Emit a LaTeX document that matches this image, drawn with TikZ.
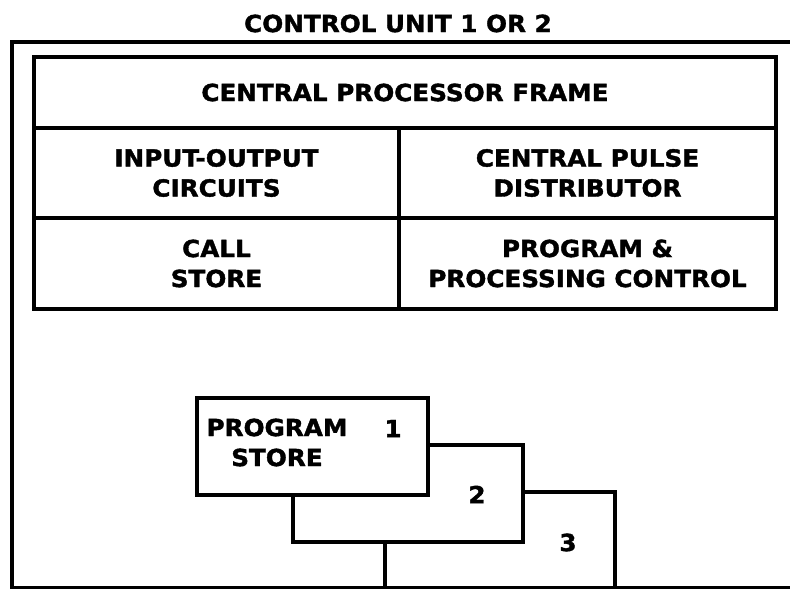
\documentclass[tikz,border=0pt]{standalone}
\usepackage{fontspec}
\setmainfont{DejaVu Sans}[FakeStretch=1.05,BoldFeatures={FakeBold=1.6}]
\begin{document}
\begin{tikzpicture}[x=1pt,y=-1pt,
  frame/.style={draw=black,line width=3.6pt},
  cell/.style={frame,rectangle,inner sep=0pt,align=center,font=\lbl},
  pstore/.style={frame,fill=white},
  lbltext/.style={inner sep=0pt,align=center,font=\lbl}]
\newcommand{\lbl}{\fontsize{23.5}{30}\selectfont\bfseries}
\useasboundingbox (0,0) rectangle (790,589);
\clip (0,0) rectangle (790,589);
% title
\node[lbltext] (title) at (398,23.5) {CONTROL UNIT 1 OR 2};
% outer control unit frame
\draw[frame,line width=4pt] (12,42) rectangle (805,587.5);
% central processor frame cells
\node[cell,minimum width=742pt,minimum height=71pt] (cpf) at (405,92.5) {CENTRAL PROCESSOR FRAME};
\node[cell,minimum width=365pt,minimum height=90pt] (ioc) at (216.5,173) {INPUT-OUTPUT\\CIRCUITS};
\node[cell,minimum width=377pt,minimum height=90pt] (cpd) at (587.5,173) {CENTRAL PULSE\\DISTRIBUTOR};
\node[cell,minimum width=365pt,minimum height=91pt] (cs) at (216.5,263.5) {CALL\\STORE};
\node[cell,minimum width=377pt,minimum height=91pt] (ppc) at (587.5,263.5) {PROGRAM \&\\PROCESSING CONTROL};
% program stores
\node[pstore,rectangle,inner sep=0pt,minimum width=230pt,minimum height=96pt] (ps3) at (500,540) {};
\node[pstore,rectangle,inner sep=0pt,minimum width=230pt,minimum height=97pt] (ps2) at (408,493.5) {};
\node[pstore,rectangle,inner sep=0pt,minimum width=231pt,minimum height=97pt] (ps1) at (312.5,446.5) {};
\node[lbltext] (pslabel) at (277,442.5) {PROGRAM\\STORE};
\node[lbltext] (n1) at (393,428.5) {1};
\node[lbltext] (n2) at (477,494.5) {2};
\node[lbltext] (n3) at (568,542.5) {3};
\end{tikzpicture}
\end{document}
